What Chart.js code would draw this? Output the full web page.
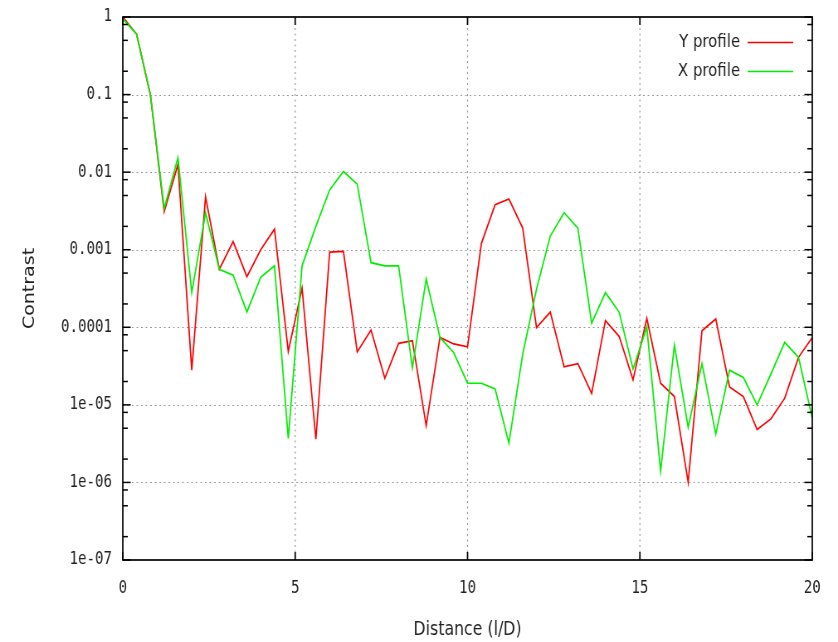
<!DOCTYPE html>
<html>
<head>
<meta charset="utf-8">
<script src="https://cdn.jsdelivr.net/npm/chart.js@4"></script>
<style>
  html, body { margin: 0; padding: 0; background: #fff; overflow: hidden; }
  /* the original picture is squeezed sideways, so draw wide and squeeze */
  #wrap { width: 1010px; height: 642px; transform: scaleX(0.8297); transform-origin: 0 0; }
</style>
</head>
<body>
<div id="wrap"><canvas id="chart" width="1010" height="642"></canvas></div>
<script>
const distance = [0, 0.4, 0.8, 1.2, 1.6, 2, 2.4, 2.8, 3.2, 3.6, 4, 4.4, 4.8, 5.2, 5.6, 6, 6.4, 6.8, 7.2, 7.6,
  8, 8.4, 8.8, 9.2, 9.6, 10, 10.4, 10.8, 11.2, 11.6, 12, 12.4, 12.8, 13.2, 13.6, 14, 14.4, 14.8, 15.2, 15.6,
  16, 16.4, 16.8, 17.2, 17.6, 18, 18.4, 18.8, 19.2, 19.6, 20];

const yProfile = [1.0, 0.6, 0.099, 0.0031, 0.0126, 2.8e-5, 0.0048, 0.00056, 0.00127, 0.00045,
  0.001, 0.00184, 4.9e-5, 0.00032, 3.6e-6, 0.00093, 0.00095, 4.8e-5, 9.2e-5, 2.2e-5,
  6.2e-5, 6.7e-5, 5.4e-6, 7.4e-5, 6.1e-5, 5.6e-5, 0.0012, 0.0038, 0.0045, 0.0019,
  9.9e-5, 0.000157, 3.1e-5, 3.4e-5, 1.4e-5, 0.000122, 7.6e-5, 2.1e-5, 0.00013, 1.9e-5,
  1.28e-5, 1.0e-6, 9.0e-5, 0.000128, 1.7e-5, 1.28e-5, 4.8e-6, 6.6e-6, 1.22e-5, 4.1e-5, 7.4e-5];

const xProfile = [0.95, 0.6, 0.1, 0.0034, 0.0154, 0.00028, 0.003, 0.00056, 0.00047, 0.000158,
  0.00044, 0.00062, 3.7e-6, 0.00062, 0.002, 0.0059, 0.0102, 0.007, 0.00068, 0.00062,
  0.00062, 3.0e-5, 0.00042, 7.4e-5, 4.7e-5, 1.9e-5, 1.9e-5, 1.6e-5, 3.2e-6, 4.5e-5,
  0.00031, 0.0015, 0.003, 0.0019, 0.000113, 0.00028, 0.000156, 2.9e-5, 0.0001, 1.4e-6,
  5.9e-5, 5.1e-6, 3.4e-5, 4.2e-6, 2.8e-5, 2.25e-5, 1.0e-5, 2.5e-5, 6.4e-5, 4.1e-5, 6.7e-6];

const xTicks = [0, 5, 10, 15, 20];
const yTicks = [1, 0.1, 0.01, 0.001, 0.0001, 1e-5, 1e-6, 1e-7];
const yTickLabels = ['1', '0.1', '0.01', '0.001', '0.0001', '1e-05', '1e-06', '1e-07'];
const yMinorSteps = [2, 5, 8];

const monoFont = { family: 'DejaVu Sans Mono', size: 17 };
const titleFont = { family: 'DejaVu Sans', size: 19 };

// gnuplot style frame, tics, dotted grid and the key
const gnuFrame = {
  id: 'gnuFrame',
  beforeDatasetsDraw(chart) {
    const { ctx, chartArea: a, scales: { x, y } } = chart;
    ctx.save();
    ctx.strokeStyle = '#999';
    ctx.lineWidth = 1.2;
    ctx.setLineDash([2, 3.5]);
    xTicks.slice(1, -1).forEach(v => {
      const px = x.getPixelForValue(v);
      ctx.beginPath(); ctx.moveTo(px, a.top); ctx.lineTo(px, a.bottom); ctx.stroke();
    });
    ctx.lineWidth = 1;
    yTicks.slice(1, -1).forEach(v => {
      const py = Math.round(y.getPixelForValue(v)) + 0.5;
      ctx.beginPath(); ctx.moveTo(a.left, py); ctx.lineTo(a.right, py); ctx.stroke();
    });
    ctx.restore();
  },
  afterDatasetsDraw(chart) {
    const { ctx, chartArea: a, scales: { x, y } } = chart;
    ctx.save();
    ctx.strokeStyle = '#000';
    ctx.lineWidth = 1.7;
    ctx.setLineDash([]);
    ctx.strokeRect(a.left, a.top, a.right - a.left, a.bottom - a.top);

    const tick = (x1, y1, x2, y2) => { ctx.beginPath(); ctx.moveTo(x1, y1); ctx.lineTo(x2, y2); ctx.stroke(); };
    ctx.lineWidth = 1.5;
    yTicks.forEach(v => {
      const py = y.getPixelForValue(v);
      tick(a.left, py, a.left + 9.5, py);
      tick(a.right, py, a.right - 9.5, py);
    });
    yTicks.slice(1).forEach(v => {
      yMinorSteps.forEach(m => {
        const py = y.getPixelForValue(v * m);
        tick(a.left, py, a.left + 6, py);
        tick(a.right, py, a.right - 6, py);
      });
    });
    ctx.lineWidth = 1.7;
    xTicks.forEach(v => {
      const px = x.getPixelForValue(v);
      tick(px, a.bottom, px, a.bottom - 8);
      tick(px, a.top, px, a.top + 8);
    });

    // key
    ctx.font = '18px "DejaVu Sans"';
    ctx.textAlign = 'right';
    ctx.textBaseline = 'middle';
    chart.data.datasets.forEach((ds, i) => {
      const ky = 42 + i * 29;
      ctx.fillStyle = '#222';
      ctx.fillText(ds.label, 892, ky);
      ctx.strokeStyle = ds.borderColor;
      ctx.lineWidth = 1.6;
      tick(901, ky + 0.5, 956, ky + 0.5);
    });
    ctx.restore();
  }
};

const chart = new Chart(document.getElementById('chart').getContext('2d'), {
  type: 'line',
  data: {
    labels: distance,
    datasets: [
      {
        label: 'Y profile',
        data: distance.map((d, i) => ({ x: d, y: yProfile[i] })),
        borderColor: '#ff0000',
        borderWidth: 1.7,
        pointRadius: 0,
        tension: 0,
        order: 1
      },
      {
        label: 'X profile',
        data: distance.map((d, i) => ({ x: d, y: xProfile[i] })),
        borderColor: '#00ee00',
        borderWidth: 1.7,
        pointRadius: 0,
        tension: 0,
        order: 0
      }
    ]
  },
  options: {
    responsive: false,
    animation: false,
    layout: { padding: { top: 17, right: 31, left: 0, bottom: 0 } },
    plugins: { legend: { display: false }, tooltip: { enabled: false } },
    scales: {
      x: {
        type: 'linear',
        min: 0,
        max: 20,
        afterBuildTicks: s => { s.ticks = xTicks.map(v => ({ value: v })); },
        afterFit: s => { s.height = 642 - 560; s.paddingLeft = 0; s.paddingRight = 0; },
        grid: { display: false, drawTicks: false },
        border: { display: false },
        ticks: { font: monoFont, color: '#222', padding: 18, maxRotation: 0 },
        title: { display: true, text: 'Distance (l/D)', font: titleFont, color: '#222', padding: { top: 0, bottom: 1 } }
      },
      y: {
        type: 'logarithmic',
        min: 1e-7,
        max: 1,
        afterBuildTicks: s => { s.ticks = yTicks.map(v => ({ value: v })); },
        afterFit: s => { s.width = 148; s.paddingTop = 0; s.paddingBottom = 0; },
        grid: { display: false, drawTicks: false },
        border: { display: false },
        ticks: {
          font: monoFont,
          color: '#222',
          padding: 13,
          autoSkip: false,
          callback: v => {
            const i = yTicks.findIndex(t => Math.abs(Math.log10(t) - Math.log10(v)) < 1e-6);
            return i >= 0 ? yTickLabels[i] : '';
          }
        },
        title: { display: true, text: 'Contrast', font: titleFont, color: '#222', padding: { top: 25, bottom: 0 } }
      }
    }
  },
  plugins: [gnuFrame]
});
</script>
</body>
</html>
